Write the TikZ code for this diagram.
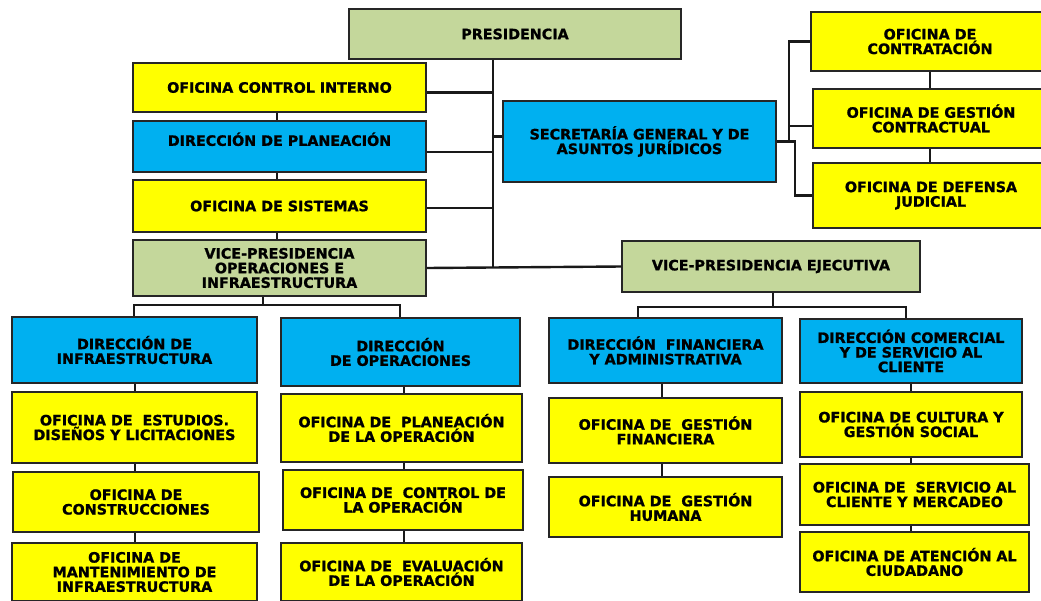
\documentclass[tikz,border=0pt]{standalone}
\usepackage{fontspec}
\setmainfont{DejaVu Sans}[BoldFeatures={FakeBold=1.2}]
\usepackage{tikz}
\usetikzlibrary{positioning,calc,shadows}
\definecolor{cyel}{HTML}{FFFF00}
\definecolor{cazul}{HTML}{00B0F0}
\definecolor{cverde}{HTML}{C4D79B}
\tikzset{
  box/.style={rectangle,draw=black!85,line width=1.3pt,align=center,inner sep=0pt,
    font=\bfseries\fontsize{14.3}{14.6}\selectfont,
    drop shadow={shadow xshift=1.3pt,shadow yshift=-1.3pt,opacity=.3}},
  yel/.style={box,fill=cyel},
  azul/.style={box,fill=cazul},
  verde/.style={box,fill=cverde},
  link/.style={line width=2.4pt,black!90},
}

\begin{document}
\begin{tikzpicture}[x=1pt,y=-1pt]
\useasboundingbox (0,0) rectangle (1041,600);
\clip (0,0) rectangle (1041,600);
\fill[white] (0,0) rectangle (1041,600);

% top level
\node[verde,minimum width=332,minimum height=50] (pres) at (515,34) {PRESIDENCIA};

% left column under presidencia
\node[yel,minimum width=293,minimum height=49] (ci) at (279.5,87.5) {OFICINA CONTROL INTERNO};
\node[azul,minimum width=293,minimum height=51] (dp) at (279.5,146.5) {DIRECCIÓN DE PLANEACIÓN\\\mbox{}};
\node[yel,minimum width=293,minimum height=52] (os) at (279.5,206) {OFICINA DE SISTEMAS};
\node[verde,minimum width=293,minimum height=56] (vpoi) at (279.5,268) {VICE-PRESIDENCIA\\OPERACIONES E\\INFRAESTRUCTURA};

% secretaria and its offices
\node[azul,minimum width=273,minimum height=81] (sg) at (639.5,141.5) {SECRETARÍA GENERAL Y DE\\ASUNTOS JURÍDICOS};
\node[yel,minimum width=238,minimum height=59] (contr) at (930,41.5) {OFICINA DE\\CONTRATACIÓN};
\node[yel,minimum width=236,minimum height=59] (gc) at (931,118.5) {OFICINA DE GESTIÓN\\CONTRACTUAL};
\node[yel,minimum width=236,minimum height=65] (dj) at (931,195.5) {OFICINA DE DEFENSA\\JUDICIAL};

\node[verde,minimum width=298,minimum height=51] (vpe) at (771,266.5) {VICE-PRESIDENCIA EJECUTIVA};

% operaciones e infraestructura
\node[azul,minimum width=245,minimum height=66] (dinf) at (134.5,350) {DIRECCIÓN DE\\INFRAESTRUCTURA};
\node[yel,minimum width=245,minimum height=71] (est) at (134.5,427.5) {OFICINA DE~ ESTUDIOS.\\DISEÑOS Y LICITACIONES};
\node[yel,minimum width=246,minimum height=60] (cons) at (136,502) {OFICINA DE\\CONSTRUCCIONES};
\node[yel,minimum width=245,minimum height=58] (mant) at (134.5,572) {OFICINA DE\\MANTENIMIENTO DE\\INFRAESTRUCTURA};

\node[azul,minimum width=239,minimum height=68] (dop) at (400.5,352) {DIRECCIÓN\\DE OPERACIONES};
\node[yel,minimum width=241,minimum height=68] (plop) at (401.5,428) {OFICINA DE~ PLANEACIÓN\\DE LA OPERACIÓN};
\node[yel,minimum width=240,minimum height=60] (ctop) at (403,500) {OFICINA DE~ CONTROL DE\\LA OPERACIÓN};
\node[yel,minimum width=241,minimum height=58] (evop) at (401.5,572) {OFICINA DE~ EVALUACIÓN\\DE LA OPERACIÓN};

% ejecutiva
\node[azul,minimum width=233,minimum height=65] (dfin) at (665.5,350.5) {DIRECCIÓN~ FINANCIERA\\Y ADMINISTRATIVA};
\node[yel,minimum width=233,minimum height=65] (gf) at (665.5,430.5) {OFICINA DE~ GESTIÓN\\FINANCIERA};
\node[yel,minimum width=233,minimum height=60] (gh) at (665.5,507) {OFICINA DE~ GESTIÓN\\HUMANA};

\node[azul,minimum width=222,minimum height=64] (dcom) at (911,351) {DIRECCIÓN COMERCIAL\\Y DE SERVICIO AL\\CLIENTE};
\node[yel,minimum width=222,minimum height=65] (cult) at (911,424.5) {OFICINA DE CULTURA Y\\GESTIÓN SOCIAL};
\node[yel,minimum width=229,minimum height=61] (serv) at (914.5,494.5) {OFICINA DE~ SERVICIO AL\\CLIENTE Y MERCADEO};
\node[yel,minimum width=229,minimum height=60] (aten) at (914.5,562) {OFICINA DE ATENCIÓN AL\\CIUDADANO};

% trunk from presidencia
\coordinate (trunk) at (493,59);
\draw[link] (pres.south -| trunk) -- (trunk |- vpoi.east);
\draw[link] ([yshift=-5pt]ci.east) -- ([yshift=-5pt]ci.east -| trunk);
\draw[link] ([yshift=-5.5pt]dp.east) -- ([yshift=-5.5pt]dp.east -| trunk);
\draw[link] ([yshift=-2pt]os.east) -- ([yshift=-2pt]os.east -| trunk);
\draw[link] ([yshift=5pt]sg.west -| trunk) -- ([yshift=5pt]sg.west);
\draw[link] (vpoi.east) -- (vpe.west);

% left stack
\coordinate (lx) at (277,0);
\foreach \a/\b in {ci/dp,dp/os,os/vpoi}
  \draw[link] (\a.south -| lx) -- (\b.north -| lx);

% secretaria brackets
\coordinate (bk1) at (789,0);
\coordinate (bk2) at (795,0);
\draw[link] (sg.east) -- (sg.east -| bk1) -- (bk1 |- contr.west) -- (contr.west);
\draw[link] ([yshift=-7.5pt]gc.west -| bk1) -- ([yshift=-7.5pt]gc.west);
\draw[link] (sg.east -| bk1) -- (sg.east -| bk2) -- (bk2 |- dj.west) -- (dj.west);
\coordinate (rx) at (930,0);
\foreach \a/\b in {contr/gc,gc/dj}
  \draw[link] (\a.south -| rx) -- (\b.north -| rx);

% split under the vice-presidencias
\coordinate (sp1) at (263,305);
\coordinate (d1) at (134,305);
\coordinate (d2) at (400,305);
\draw[link] (vpoi.south -| sp1) -- (sp1);
\draw[link] (d1 |- dinf.north) -- (d1) -- (d2) -- (d2 |- dop.north);
\coordinate (sp2) at (773,307);
\coordinate (d3) at (638,307);
\coordinate (d4) at (906,307);
\draw[link] (vpe.south -| sp2) -- (sp2);
\draw[link] (d3 |- dfin.north) -- (d3) -- (d4) -- (d4 |- dcom.north);

% lower stacks
\coordinate (c1) at (135,0);
\coordinate (c2) at (404,0);
\coordinate (c3) at (662,0);
\coordinate (c4) at (911,0);
\foreach \a/\b in {dinf/est,est/cons,cons/mant}
  \draw[link] (\a.south -| c1) -- (\b.north -| c1);
\foreach \a/\b in {dop/plop,plop/ctop,ctop/evop}
  \draw[link] (\a.south -| c2) -- (\b.north -| c2);
\foreach \a/\b in {dfin/gf,gf/gh}
  \draw[link] (\a.south -| c3) -- (\b.north -| c3);
\foreach \a/\b in {dcom/cult,cult/serv,serv/aten}
  \draw[link] (\a.south -| c4) -- (\b.north -| c4);
\end{tikzpicture}
\end{document}
